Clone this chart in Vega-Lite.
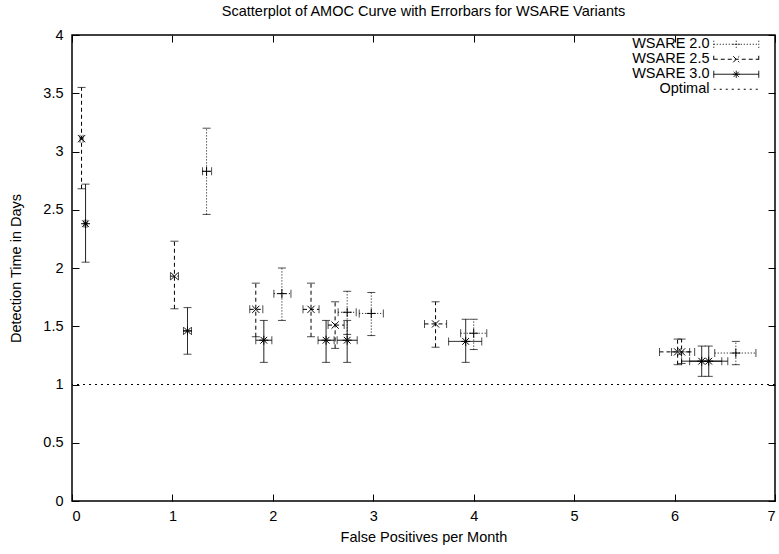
{
  "$schema": "https://vega.github.io/schema/vega-lite/v6.json",
  "width": 703,
  "height": 466,
  "autosize": {"type": "none"},
  "padding": {"left": 72, "top": 35, "right": 4, "bottom": 53},
  "title": {"text": "Scatterplot of AMOC Curve with Errorbars for WSARE Variants", "fontSize": 14.5, "fontWeight": "normal", "font": "Liberation Sans", "color": "#000", "anchor": "middle", "offset": 8},
  "config": {
    "font": "Liberation Sans",
    "view": {"stroke": "#000", "strokeWidth": 1.5},
    "axis": {"domain": false, "grid": false, "tickColor": "#000", "tickWidth": 1, "tickSize": -7, "labelFont": "Liberation Sans", "labelFontSize": 14.5, "labelColor": "#000", "titleFont": "Liberation Sans", "titleFontSize": 14.5, "titleFontWeight": "normal", "titleColor": "#000"}
  },
  "data": {"values": [
    {"variant": "WSARE 2.0", "x": 1.34, "y": 2.83, "xlo": 1.30, "xhi": 1.39, "ylo": 2.46, "yhi": 3.20},
    {"variant": "WSARE 2.0", "x": 2.09, "y": 1.78, "xlo": 2.01, "xhi": 2.18, "ylo": 1.55, "yhi": 2.00},
    {"variant": "WSARE 2.0", "x": 2.74, "y": 1.62, "xlo": 2.65, "xhi": 2.83, "ylo": 1.43, "yhi": 1.80},
    {"variant": "WSARE 2.0", "x": 2.98, "y": 1.61, "xlo": 2.86, "xhi": 3.10, "ylo": 1.42, "yhi": 1.79},
    {"variant": "WSARE 2.0", "x": 4.00, "y": 1.44, "xlo": 3.87, "xhi": 4.13, "ylo": 1.30, "yhi": 1.56},
    {"variant": "WSARE 2.0", "x": 6.61, "y": 1.27, "xlo": 6.40, "xhi": 6.81, "ylo": 1.17, "yhi": 1.37},
    {"variant": "WSARE 2.5", "x": 0.095, "y": 3.11, "xlo": 0.08, "xhi": 0.11, "ylo": 2.68, "yhi": 3.55},
    {"variant": "WSARE 2.5", "x": 1.02, "y": 1.93, "xlo": 0.98, "xhi": 1.06, "ylo": 1.65, "yhi": 2.23},
    {"variant": "WSARE 2.5", "x": 1.83, "y": 1.645, "xlo": 1.77, "xhi": 1.90, "ylo": 1.41, "yhi": 1.87},
    {"variant": "WSARE 2.5", "x": 2.38, "y": 1.645, "xlo": 2.30, "xhi": 2.46, "ylo": 1.41, "yhi": 1.87},
    {"variant": "WSARE 2.5", "x": 2.62, "y": 1.51, "xlo": 2.55, "xhi": 2.71, "ylo": 1.31, "yhi": 1.71},
    {"variant": "WSARE 2.5", "x": 3.62, "y": 1.52, "xlo": 3.51, "xhi": 3.73, "ylo": 1.32, "yhi": 1.71},
    {"variant": "WSARE 2.5", "x": 6.03, "y": 1.28, "xlo": 5.85, "xhi": 6.20, "ylo": 1.17, "yhi": 1.39},
    {"variant": "WSARE 2.5", "x": 6.07, "y": 1.28, "xlo": 5.97, "xhi": 6.15, "ylo": 1.18, "yhi": 1.39},
    {"variant": "WSARE 3.0", "x": 0.135, "y": 2.38, "xlo": 0.12, "xhi": 0.15, "ylo": 2.05, "yhi": 2.72},
    {"variant": "WSARE 3.0", "x": 1.15, "y": 1.46, "xlo": 1.11, "xhi": 1.19, "ylo": 1.26, "yhi": 1.66},
    {"variant": "WSARE 3.0", "x": 1.91, "y": 1.38, "xlo": 1.83, "xhi": 1.99, "ylo": 1.19, "yhi": 1.55},
    {"variant": "WSARE 3.0", "x": 2.53, "y": 1.38, "xlo": 2.45, "xhi": 2.61, "ylo": 1.19, "yhi": 1.55},
    {"variant": "WSARE 3.0", "x": 2.74, "y": 1.38, "xlo": 2.64, "xhi": 2.84, "ylo": 1.19, "yhi": 1.55},
    {"variant": "WSARE 3.0", "x": 3.92, "y": 1.37, "xlo": 3.75, "xhi": 4.08, "ylo": 1.19, "yhi": 1.56},
    {"variant": "WSARE 3.0", "x": 6.27, "y": 1.20, "xlo": 6.07, "xhi": 6.47, "ylo": 1.07, "yhi": 1.33},
    {"variant": "WSARE 3.0", "x": 6.34, "y": 1.20, "xlo": 6.15, "xhi": 6.53, "ylo": 1.07, "yhi": 1.33}
  ]},
  "layer": [
    {
      "data": {"values": [{"series": "Optimal", "level": 1}]},
      "mark": {"type": "rule", "color": "#000", "strokeWidth": 1},
      "encoding": {
        "y": {"field": "level", "type": "quantitative", "scale": {"domain": [0, 4], "nice": false, "zero": false}, "axis": null},
        "strokeDash": {"field": "series", "type": "nominal", "title": null,
          "scale": {"domain": ["WSARE 2.0", "WSARE 2.5", "WSARE 3.0", "Optimal"], "range": [[1, 2], [4, 3], [1, 0], [2, 4]]},
          "legend": {"orient": "none", "legendX": 657, "legendY": 2, "title": null, "symbolType": "M-4.5,0L4.5,0", "symbolSize": 100, "symbolStrokeWidth": 1, "symbolStrokeColor": "#000", "symbolFillColor": "transparent", "labelAlign": "right", "labelOffset": -34, "labelFontSize": 14.5, "labelFont": "Liberation Sans", "labelColor": "#000", "rowPadding": 0, "padding": 0,
            "encode": {"symbols": {"update": {"shape": {"signal": "datum.value === 'Optimal' ? 'M-4.5,0L4.5,0' : datum.value === 'WSARE 2.0' ? 'M-4.5,0L4.5,0M-4.5,-0.7L-4.5,0.7M4.5,-0.7L4.5,0.7M-0.7,0L0.7,0M0,-0.7L0,0.7' : datum.value === 'WSARE 2.5' ? 'M-4.5,0L4.5,0M-4.5,-0.7L-4.5,0.7M4.5,-0.7L4.5,0.7M-0.6,-0.6L0.6,0.6M-0.6,0.6L0.6,-0.6' : 'M-4.5,0L4.5,0M-4.5,-0.7L-4.5,0.7M4.5,-0.7L4.5,0.7M-0.7,0L0.7,0M0,-0.7L0,0.7M-0.5,-0.5L0.5,0.5M-0.5,0.5L0.5,-0.5'"}}}}
          }
        }
      }
    },
    {
      "mark": {"type": "rule", "color": "#000", "strokeWidth": 1},
      "encoding": {
        "x": {"field": "xlo", "type": "quantitative", "scale": {"domain": [0, 7], "nice": false, "zero": false}, "axis": {"orient": "bottom", "values": [0, 1, 2, 3, 4, 5, 6, 7], "title": "False Positives per Month", "labelPadding": 15, "titlePadding": 8}},
        "x2": {"field": "xhi"},
        "y": {"field": "y", "type": "quantitative", "scale": {"domain": [0, 4], "nice": false, "zero": false}, "axis": {"orient": "left", "values": [0, 0.5, 1, 1.5, 2, 2.5, 3, 3.5, 4], "format": "~g", "title": "Detection Time in Days", "labelPadding": 16, "titlePadding": 19}},
        "strokeDash": {"field": "variant", "type": "nominal", "title": null}
      }
    },
    {
      "mark": {"type": "rule", "color": "#000", "strokeWidth": 1},
      "encoding": {
        "x": {"field": "x", "type": "quantitative", "axis": {"orient": "top", "values": [0, 1, 2, 3, 4, 5, 6, 7], "labels": false, "title": null}},
        "y": {"field": "ylo", "type": "quantitative", "axis": {"orient": "right", "values": [0, 0.5, 1, 1.5, 2, 2.5, 3, 3.5, 4], "labels": false, "title": null}},
        "y2": {"field": "yhi"},
        "strokeDash": {"field": "variant", "type": "nominal", "title": null}
      }
    },
    {
      "transform": [{"fold": ["ylo", "yhi"], "as": ["end", "capY"]}],
      "mark": {"type": "tick", "orient": "horizontal", "size": 8, "thickness": 1, "color": "#000"},
      "encoding": {
        "x": {"field": "x", "type": "quantitative", "axis": null},
        "y": {"field": "capY", "type": "quantitative", "axis": null}
      }
    },
    {
      "transform": [{"fold": ["xlo", "xhi"], "as": ["end", "capX"]}],
      "mark": {"type": "tick", "orient": "vertical", "size": 8, "thickness": 1, "color": "#000"},
      "encoding": {
        "x": {"field": "capX", "type": "quantitative", "axis": null},
        "y": {"field": "y", "type": "quantitative", "axis": null}
      }
    },
    {
      "mark": {"type": "point", "filled": false, "stroke": "#000", "strokeWidth": 1, "opacity": 1, "size": 81},
      "encoding": {
        "x": {"field": "x", "type": "quantitative", "axis": null},
        "y": {"field": "y", "type": "quantitative", "axis": null},
        "shape": {"field": "variant", "type": "nominal", "legend": null,
          "scale": {"domain": ["WSARE 2.0", "WSARE 2.5", "WSARE 3.0"], "range": ["M-1,0L1,0M0,-1L0,1", "M-0.8,-0.8L0.8,0.8M-0.8,0.8L0.8,-0.8", "M-1,0L1,0M0,-1L0,1M-0.75,-0.75L0.75,0.75M-0.75,0.75L0.75,-0.75"]}}
      }
    }
  ],
  "resolve": {"axis": {"x": "independent", "y": "independent"}}
}
